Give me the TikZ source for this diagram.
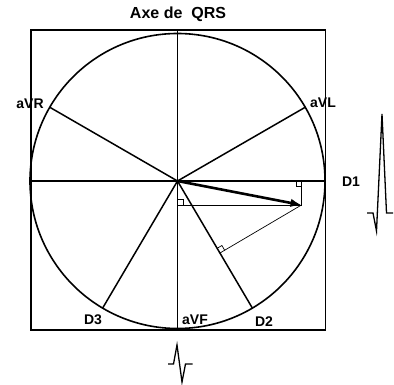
\documentclass[tikz,border=0pt]{standalone}
\usepackage{fontspec}
\setmainfont{Liberation Sans}
\usetikzlibrary{arrows.meta,calc}
\tikzset{
  frame/.style={line width=1.6pt},
  axisline/.style={line width=1.5pt},
  thinline/.style={line width=0.7pt},
  lbl/.style={font=\fontsize{14}{16}\selectfont\bfseries, inner sep=0pt},
  ttl/.style={font=\fontsize{16}{18}\selectfont\bfseries, inner sep=0pt},
  wave/.style={line width=1.3pt, line join=miter},
}
\begin{document}
\begin{tikzpicture}[x=1pt,y=-1pt]
\useasboundingbox (0,0) rectangle (394,385);
\coordinate (O) at (177.5,181);
\def\R{147.5}
% frame
\draw[frame] (31,30) rectangle (325.5,330);
\draw[frame] (O) circle (\R);
% axes
\coordinate (L) at (31,181);
\coordinate (Rt) at (325.5,181);
\coordinate (Tp) at (177.5,30);
\coordinate (Bt) at (177.5,330);
\draw[axisline] (L) -- (Rt);
\draw[axisline, line width=1.9pt] (Tp) -- (Bt);
\coordinate (aVR) at ($(O)+(-150:\R)$);
\coordinate (aVL) at ($(O)+(-30:\R)$);
\coordinate (D2) at ($(O)+(59.5:\R)$);
\coordinate (D3) at ($(O)+(120.5:\R)$);
\draw[axisline] (O) -- (aVR);
\draw[axisline] (O) -- (aVL);
\draw[axisline] (O) -- (D2);
\draw[axisline] (O) -- (D3);
% vector and projections
\coordinate (T) at (301.5,205);
\coordinate (Px) at (301.5,181);
\coordinate (Py) at (177.5,205);
\coordinate (Pd) at ($(O)!(T)!(D2)$);
\draw[thinline] (T) -- (Px);
\draw[thinline] (T) -- (Py);
\draw[thinline] (T) -- (Pd);
% right angle marks
\draw[thinline] ($(Px)+(-5.5,0)$) -- ++(0,5.5) -- ++(5.5,0);
\draw[thinline] ($(Py)+(0,-5.5)$) -- ++(5.5,0) -- ++(0,5.5);
\coordinate (ma) at ($(Pd)!5.5pt!(O)$);
\coordinate (mb) at ($(Pd)!5.5pt!(T)$);
\coordinate (mc) at ($(ma)+(mb)-(Pd)$);
\draw[thinline] (ma) -- (mc) -- (mb);
\draw[line width=2.6pt, -{Latex[length=11pt,width=8.5pt]}] (O) -- (T);
% labels
\node[ttl] (title) at (178,14) {Axe de\ \ QRS};
\node[lbl] (laVR) at (30,104) {aVR};
\node[lbl] (laVL) at (323,103) {aVL};
\node[lbl] (lD1) at (351,182) {D1};
\node[lbl] (lD2) at (264,322) {D2};
\node[lbl] (lD3) at (93,320) {D3};
\node[lbl] (laVF) at (195,320) {aVF};
% ECG complexes
\draw[wave] (367,213) -- (373,213) -- (376.5,231) -- (382,114) -- (386.5,213) -- (393,213);
\draw[wave] (168,364) -- (173.5,364) -- (177,345) -- (182,382) -- (185.5,364) -- (192.5,364);
\end{tikzpicture}
\end{document}
